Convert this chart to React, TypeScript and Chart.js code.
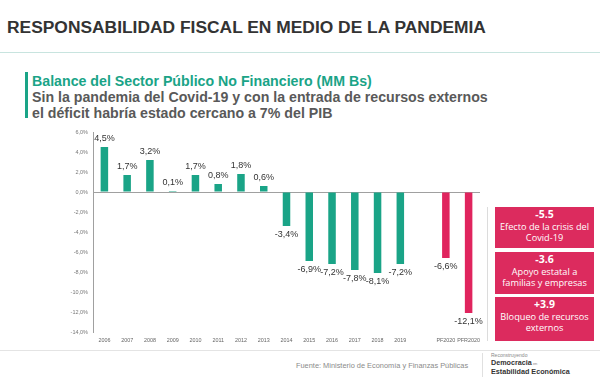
import React, { useEffect, useRef } from "react";
import { Chart, registerables } from "chart.js";

Chart.register(...registerables);

const categories = ["2006", "2007", "2008", "2009", "2010", "2011", "2012", "2013", "2014", "2015", "2016", "2017", "2018", "2019", "", "PF2020", "PFR2020"];
const balanceValues = [4.5, 1.7, 3.2, 0.1, 1.7, 0.8, 1.8, 0.6, -3.4, -6.9, -7.2, -7.8, -8.1, -7.2, null, -6.6, -12.1];
const projectedFlags = [false, false, false, false, false, false, false, false, false, false, false, false, false, false, false, true, true];
const yTicks = { min: -14, max: 6, step: 2 };
const boxes = [
  { value: "-5.5", lines: ["Efecto de la crisis del", "Covid-19"] },
  { value: "-3.6", lines: ["Apoyo estatal a", "familias y empresas"] },
  { value: "+3.9", lines: ["Bloqueo de recursos", "externos"] },
];

const TEAL = "#1aa487";
const RED = "#e0245e";
const BOX = "#dc2b5e";

const fmt = (v: number) => v.toFixed(1).replace(".", ",") + "%";

const labelPlugin = {
  id: "valueLabels",
  afterDatasetsDraw(chart: any) {
    const ctx = chart.ctx;
    const meta = chart.getDatasetMeta(0);
    ctx.save();
    ctx.font = "9px 'Liberation Sans', Arial, sans-serif";
    ctx.fillStyle = "#333";
    ctx.textAlign = "center";
    ctx.textBaseline = "middle";
    meta.data.forEach((el: any, i: number) => {
      const v = balanceValues[i];
      if (v === null || v === undefined) return;
      const y = v >= 0 ? el.y - 8 : el.y + 8.5;
      ctx.fillText(fmt(v), el.x, y);
    });
    ctx.restore();
  },
};

function BarChart() {
  const ref = useRef<HTMLCanvasElement | null>(null);
  useEffect(() => {
    if (!ref.current) return;
    const chart = new Chart(ref.current, {
      type: "bar",
      data: {
        labels: categories,
        datasets: [
          {
            data: balanceValues as any,
            backgroundColor: projectedFlags.map((p) => (p ? RED : TEAL)),
            borderWidth: 0,
            barPercentage: 0.33,
            categoryPercentage: 1,
          },
        ],
      },
      options: {
        responsive: false,
        animation: false,
        layout: { padding: { top: 12, right: 10, left: 0, bottom: 0 } },
        plugins: { legend: { display: false }, tooltip: { enabled: false } },
        scales: {
          x: {
            grid: { display: false, drawTicks: false },
            border: { display: false },
            ticks: {
              color: "#666",
              font: { size: 5.4, family: "'Liberation Sans', Arial, sans-serif" },
              padding: 5,
              maxRotation: 0,
              autoSkip: false,
            },
            afterFit: (s: any) => {
              s.height = 18;
            },
          },
          y: {
            min: yTicks.min,
            max: yTicks.max,
            grid: {
              drawTicks: false,
              color: (c: any) => (c.tick && c.tick.value === 0 ? "#a0a0a0" : "rgba(0,0,0,0)"),
              lineWidth: 1,
            },
            border: { display: true, color: "#a0a0a0" },
            ticks: {
              stepSize: yTicks.step,
              color: "#777",
              font: { size: 5.5, family: "'Liberation Sans', Arial, sans-serif" },
              padding: 5,
              callback: (v: any) => fmt(Number(v)),
            },
            afterFit: (s: any) => {
              s.width = 93;
            },
          },
        },
      },
      plugins: [labelPlugin],
    });
    return () => chart.destroy();
  }, []);
  return (
    <canvas
      ref={ref}
      width={490}
      height={230}
      style={{ position: "absolute", left: 0, top: 120, width: 490, height: 230 }}
    />
  );
}

export default function App() {
  const boxTops = [207, 252, 297];
  const boxHeights = [41, 42, 44];
  return (
    <div
      style={{
        position: "absolute",
        left: 0,
        top: 0,
        width: 600,
        height: 383,
        background: "#fff",
        overflow: "hidden",
        fontFamily: "'Liberation Sans', Arial, sans-serif",
      }}
    >
      <div
        style={{
          position: "absolute",
          left: 7,
          top: 15,
          fontSize: 17.4,
          fontWeight: "bold",
          color: "#333",
          whiteSpace: "nowrap",
          lineHeight: "24px",
        }}
      >
        RESPONSABILIDAD FISCAL EN MEDIO DE LA PANDEMIA
      </div>
      <div style={{ position: "absolute", left: 0, top: 52, width: 600, height: 1, background: "#c8e4df" }} />
      <div style={{ position: "absolute", left: 25, top: 72, width: 2.5, height: 46, background: TEAL }} />
      <div
        style={{
          position: "absolute",
          left: 32,
          top: 73,
          fontSize: 14.2,
          fontWeight: "bold",
          color: TEAL,
          whiteSpace: "nowrap",
          lineHeight: "16px",
        }}
      >
        Balance del Sector Público No Financiero (MM Bs)
      </div>
      <div
        style={{
          position: "absolute",
          left: 32,
          top: 89,
          fontSize: 14.2,
          fontWeight: "bold",
          color: "#595959",
          whiteSpace: "nowrap",
          lineHeight: "16px",
        }}
      >
        Sin la pandemia del Covid-19 y con la entrada de recursos externos
        <br />
        el déficit habría estado cercano a 7% del PIB
      </div>
      <BarChart />
      <div style={{ position: "absolute", left: 487, top: 207, width: 1, height: 134, background: "#dcdcdc" }} />
      {boxes.map((b, i) => (
        <div
          key={i}
          style={{
            position: "absolute",
            left: 495,
            top: boxTops[i],
            width: 99,
            height: boxHeights[i],
            background: BOX,
            color: "#fff",
            textAlign: "center",
            fontFamily: "'Open Sans', sans-serif",
            fontSize: 9.2,
            lineHeight: "11px",
            paddingTop: 1,
            boxSizing: "border-box",
          }}
        >
          <div style={{ fontWeight: "bold", fontSize: 10.5, lineHeight: "13px" }}>{b.value}</div>
          {b.lines.map((l, j) => (
            <div key={j} style={{ whiteSpace: "nowrap" }}>
              {l}
            </div>
          ))}
        </div>
      ))}
      <div style={{ position: "absolute", left: 0, top: 350, width: 600, height: 1, background: "#e4e4e4" }} />
      <div
        style={{
          position: "absolute",
          left: 296,
          top: 360,
          fontSize: 7.4,
          color: "#8a8a8a",
          whiteSpace: "nowrap",
          lineHeight: "12px",
        }}
      >
        Fuente: Ministerio de Economía y Finanzas Públicas
      </div>
      <div style={{ position: "absolute", left: 482, top: 353, width: 1, height: 24, background: "#e0e0e0" }} />
      <div style={{ position: "absolute", left: 491, top: 352, fontSize: 5, color: "#888", lineHeight: "6px", whiteSpace: "nowrap" }}>
        Reconstruyendo
      </div>
      <div style={{ position: "absolute", left: 491, top: 358, fontSize: 7.2, fontWeight: "bold", color: "#333", lineHeight: "9px", whiteSpace: "nowrap" }}>
        Democracia<span style={{ fontSize: 4, fontWeight: "normal", color: "#888" }}> en</span>
      </div>
      <div style={{ position: "absolute", left: 491, top: 367, fontSize: 7.2, fontWeight: "bold", color: "#333", lineHeight: "9px", whiteSpace: "nowrap" }}>
        Estabilidad Económica
      </div>
    </div>
  );
}
